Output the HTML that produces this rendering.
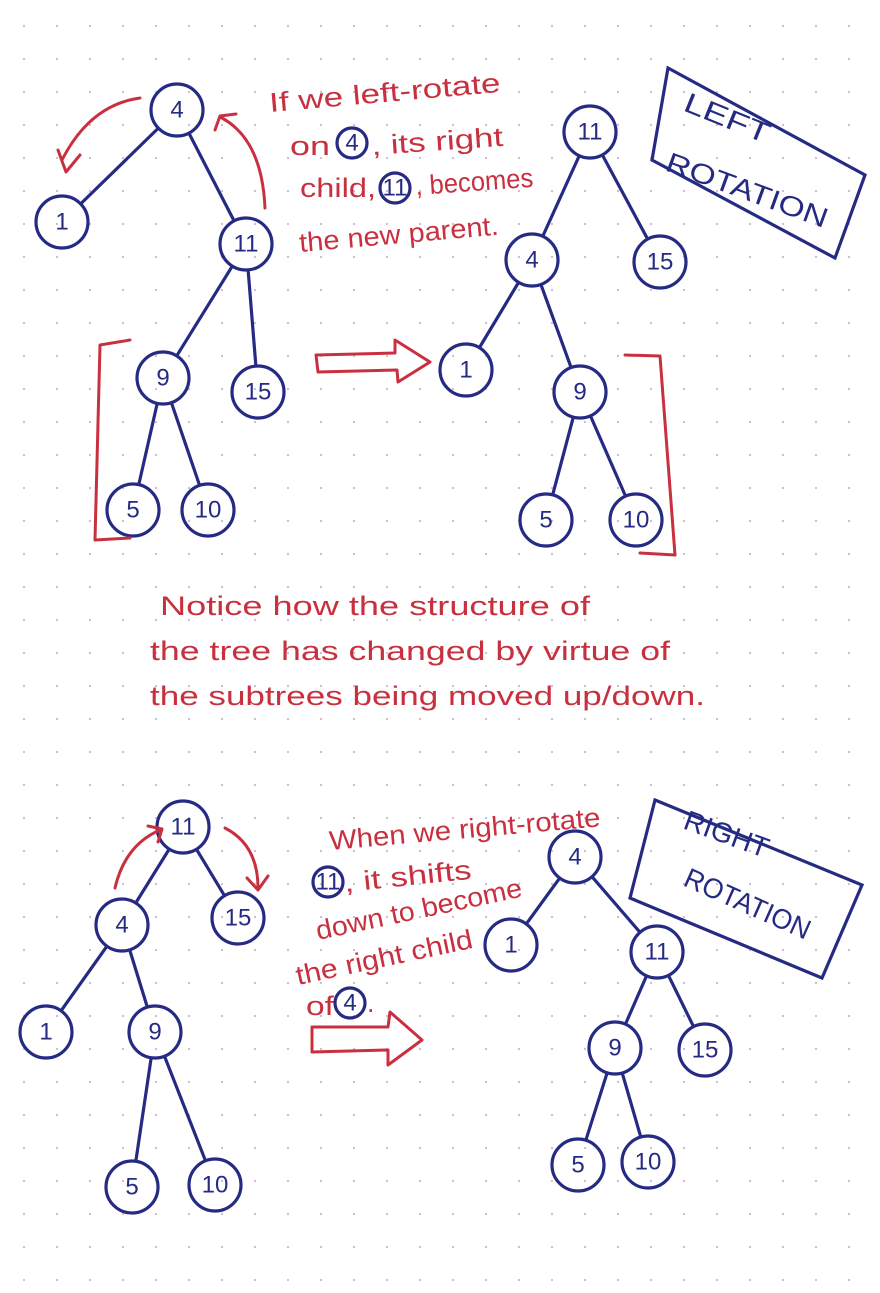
<!DOCTYPE html>
<html><head><meta charset="utf-8"><style>
html,body{margin:0;padding:0;background:#fff}
svg{display:block}
.b{stroke:#252a82;stroke-width:3.2;fill:none;stroke-linecap:round}
.r{stroke:#c9303f;stroke-width:3;fill:none;stroke-linecap:round;stroke-linejoin:round}
.nt{font-family:"Liberation Sans",sans-serif;fill:#252a82;font-size:24px;text-anchor:middle;dominant-baseline:central}
.rt{font-family:"Liberation Sans",sans-serif;fill:#c9303f;font-size:27px}
.bt{font-family:"Liberation Sans",sans-serif;fill:#252a82;font-size:28px}
</style></head><body>
<svg id="s" width="880" height="1293" viewBox="0 0 880 1293" xmlns="http://www.w3.org/2000/svg">
<defs><pattern id="dots" width="33" height="33" patternUnits="userSpaceOnUse" x="8" y="10"><circle cx="16" cy="16" r="1.1" fill="#c9b8cc"/></pattern></defs>
<rect width="880" height="1293" fill="url(#dots)"/>
<g id="trees"></g>
<path class="r" d="M140 98 Q90 105 62 160 M58 150 L66 172 L80 155"/>
<path class="r" d="M265 208 Q262 140 222 118 M215 130 L220 116 L236 114"/>
<g class="rt">
<text x="270" y="112" transform="rotate(-5 270 112)" textLength="232" lengthAdjust="spacingAndGlyphs">If we left-rotate</text>
<text x="290" y="155" textLength="40" lengthAdjust="spacingAndGlyphs">on</text>
<text x="372" y="155" transform="rotate(-4 372 155)" textLength="132" lengthAdjust="spacingAndGlyphs">, its right</text>
<text x="300" y="197" textLength="76" lengthAdjust="spacingAndGlyphs">child,</text>
<text x="416" y="195" transform="rotate(-4 416 195)" textLength="118" lengthAdjust="spacingAndGlyphs">, becomes</text>
<text x="300" y="252" transform="rotate(-5 300 252)" textLength="200" lengthAdjust="spacingAndGlyphs">the new parent.</text>
</g>
<circle class="b" cx="352" cy="143" r="15" stroke-width="2.5"/><text class="nt" x="352" y="143" font-size="18">4</text>
<circle class="b" cx="395" cy="188" r="15" stroke-width="2.5"/><text class="nt" x="395" y="188" font-size="18">11</text>
<path class="b" d="M668 68 L865 175 L835 258 L652 160 Z"/>
<text class="bt" x="682" y="110" transform="rotate(22 682 110)" textLength="90" lengthAdjust="spacingAndGlyphs">LEFT</text>
<text class="bt" x="664" y="170" transform="rotate(20 664 170)" textLength="170" lengthAdjust="spacingAndGlyphs">ROTATION</text>
<path class="r" d="M130 340 L100 345 L95 540 L130 538"/>
<path class="r" d="M625 355 L660 356 L675 555 L640 553"/>
<path class="r" d="M316 355 L395 353 L395 340 L430 362 L398 382 L397 370 L318 372 Z"/>
<g class="rt" font-size="29">
<text x="160" y="615" textLength="430" lengthAdjust="spacingAndGlyphs">Notice how the structure of</text>
<text x="150" y="660" textLength="520" lengthAdjust="spacingAndGlyphs">the tree has changed by virtue of</text>
<text x="150" y="705" textLength="555" lengthAdjust="spacingAndGlyphs">the subtrees being moved up/down.</text>
</g>
<path class="r" d="M115 888 Q125 845 160 830 M148 826 L162 829 L158 842"/>
<path class="r" d="M225 828 Q258 845 258 888 M247 878 L258 890 L268 876"/>
<g class="rt">
<text x="330" y="850" transform="rotate(-5 330 850)" textLength="272" lengthAdjust="spacingAndGlyphs">When we right-rotate</text>
<text x="345" y="892" transform="rotate(-6 345 892)" textLength="128" lengthAdjust="spacingAndGlyphs">, it shifts</text>
<text x="318" y="940" transform="rotate(-12 318 940)" textLength="210" lengthAdjust="spacingAndGlyphs">down to become</text>
<text x="298" y="985" transform="rotate(-12 298 985)" textLength="180" lengthAdjust="spacingAndGlyphs">the right child</text>
<text x="306" y="1015" textLength="28" lengthAdjust="spacingAndGlyphs">of</text>
<text x="367" y="1012">.</text>
</g>
<circle class="b" cx="328" cy="882" r="15" stroke-width="2.5"/><text class="nt" x="328" y="882" font-size="18">11</text>
<circle class="b" cx="350" cy="1003" r="15" stroke-width="2.5"/><text class="nt" x="350" y="1003" font-size="18">4</text>
<path class="r" d="M312 1027 L388 1027 L390 1012 L422 1040 L388 1065 L388 1050 L312 1052 Z"/>
<path class="b" d="M655 800 L862 885 L822 978 L630 898 Z"/>
<text class="bt" x="682" y="828" transform="rotate(20 682 828)" textLength="88" lengthAdjust="spacingAndGlyphs">RIGHT</text>
<text class="bt" x="682" y="885" transform="rotate(24 682 885)" textLength="135" lengthAdjust="spacingAndGlyphs">ROTATION</text>
</svg>
<script>
const trees = [
 {name:'before-left', nodes:[['4',177,110],['1',62,222],['11',246,244],['9',163,378],['15',258,392],['5',133,510],['10',208,510]], edges:[[0,1],[0,2],[2,3],[2,4],[3,5],[3,6]]},
 {name:'after-left', nodes:[['11',590,132],['4',532,260],['15',660,262],['1',466,370],['9',580,392],['5',546,520],['10',636,520]], edges:[[0,1],[0,2],[1,3],[1,4],[4,5],[4,6]]},
 {name:'before-right', nodes:[['11',183,827],['4',122,925],['15',238,918],['1',46,1032],['9',155,1032],['5',132,1187],['10',215,1185]], edges:[[0,1],[0,2],[1,3],[1,4],[4,5],[4,6]]},
 {name:'after-right', nodes:[['4',575,857],['1',511,945],['11',657,952],['9',615,1048],['15',705,1050],['5',578,1165],['10',648,1162]], edges:[[0,1],[0,2],[2,3],[2,4],[3,5],[3,6]]}
];
const NS='http://www.w3.org/2000/svg';
const g=document.getElementById('trees');
const R=26;
trees.forEach(t=>{
 const tg=document.createElementNS(NS,'g');
 
 
 g.appendChild(tg);
 t.edges.forEach(([a,b])=>{
  const A=t.nodes[a],B=t.nodes[b];
  const dx=B[1]-A[1],dy=B[2]-A[2],d=Math.hypot(dx,dy);
  const l=document.createElementNS(NS,'line');
  l.setAttribute('class','b');
  l.setAttribute('x1',A[1]+dx/d*(R+2));l.setAttribute('y1',A[2]+dy/d*(R+2));
  l.setAttribute('x2',B[1]-dx/d*(R+2));l.setAttribute('y2',B[2]-dy/d*(R+2));
  
  
  tg.appendChild(l);
 });
 t.nodes.forEach(n=>{
  const c=document.createElementNS(NS,'circle');
  c.setAttribute('class','b');c.setAttribute('cx',n[1]);c.setAttribute('cy',n[2]);c.setAttribute('r',R);
  
  
  tg.appendChild(c);
  const tx=document.createElementNS(NS,'text');
  tx.setAttribute('class','nt');tx.setAttribute('x',n[1]);tx.setAttribute('y',n[2]);
  tx.textContent=n[0];
  
  
  tg.appendChild(tx);
 });
});
</script>
</body></html>
